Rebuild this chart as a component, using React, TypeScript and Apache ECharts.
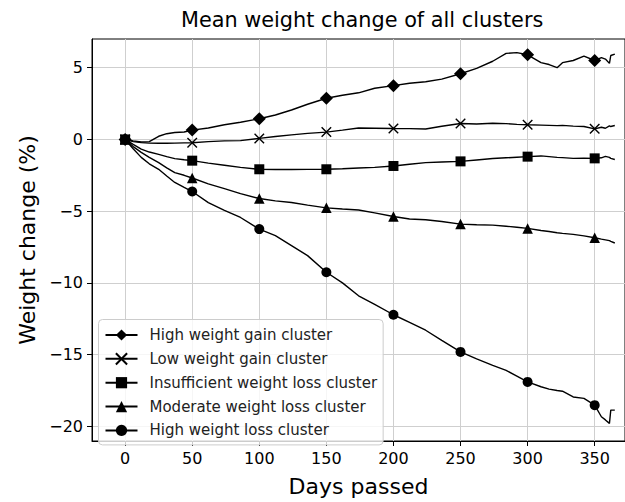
import React, { useEffect, useRef } from "react";
import * as echarts from "echarts";

const days = [0, 6, 12, 18, 25, 31, 37, 44, 50, 62, 74, 86, 100, 112, 124, 136, 150, 162, 174, 186, 200, 212, 224, 236, 250, 262, 274, 284, 292, 300, 310, 316, 322, 326, 334, 342, 350, 355, 358, 361, 362, 365];

const highGain = [0, -0.1, -0.18, -0.15, 0.22, 0.4, 0.48, 0.52, 0.65, 0.8, 1.02, 1.2, 1.44, 1.7, 2.05, 2.45, 2.87, 3.08, 3.25, 3.57, 3.75, 3.92, 4.02, 4.2, 4.58, 4.95, 5.45, 6.0, 6.05, 5.9, 5.35, 5.22, 5.0, 5.35, 5.5, 5.8, 5.5, 5.7, 5.6, 5.3, 5.85, 5.95];
const lowGain = [0, -0.15, -0.22, -0.26, -0.27, -0.27, -0.26, -0.24, -0.23, -0.15, -0.1, -0.08, 0.07, 0.2, 0.32, 0.42, 0.51, 0.65, 0.8, 0.78, 0.76, 0.75, 0.73, 0.92, 1.11, 1.08, 1.13, 1.1, 1.05, 1.02, 1.0, 0.98, 0.96, 0.98, 0.93, 0.9, 0.74, 0.85, 0.78, 0.95, 0.9, 0.97];
const insufficientLoss = [0, -0.35, -0.68, -0.88, -1.04, -1.2, -1.34, -1.42, -1.48, -1.65, -1.8, -1.95, -2.08, -2.1, -2.1, -2.09, -2.08, -2.04, -1.99, -1.95, -1.85, -1.73, -1.62, -1.57, -1.53, -1.43, -1.33, -1.28, -1.24, -1.2, -1.15, -1.2, -1.25, -1.27, -1.32, -1.3, -1.32, -1.28, -1.18, -1.25, -1.32, -1.4];
const moderateLoss = [0, -0.5, -0.9, -1.25, -1.62, -1.98, -2.31, -2.5, -2.69, -3.1, -3.43, -3.78, -4.12, -4.28, -4.4, -4.58, -4.77, -4.85, -4.92, -5.12, -5.37, -5.55, -5.6, -5.72, -5.9, -5.95, -5.97, -6.05, -6.12, -6.2, -6.35, -6.42, -6.5, -6.55, -6.62, -6.72, -6.85, -6.95, -7.0, -7.05, -7.1, -7.22];
const highLoss = [0, -0.65, -1.25, -1.7, -2.08, -2.55, -3.0, -3.35, -3.63, -4.4, -4.95, -5.44, -6.25, -6.7, -7.4, -8.1, -9.26, -10.0, -10.9, -11.5, -12.22, -12.75, -13.3, -14.0, -14.81, -15.3, -15.75, -16.1, -16.5, -16.9, -17.24, -17.4, -17.5, -17.55, -17.95, -18.05, -18.52, -19.33, -19.55, -19.79, -18.87, -18.87];

const seriesNames = [
  "High weight gain cluster",
  "Low weight gain cluster",
  "Insufficient weight loss cluster",
  "Moderate weight loss cluster",
  "High weight loss cluster",
];

const markerDays = [0, 50, 100, 150, 200, 250, 300, 350];
const xTicks = [0, 50, 100, 150, 200, 250, 300, 350];
const yTicks = [-20, -15, -10, -5, 0, 5];

const FONT = "DejaVu Sans";

function makeSeries(name: string, values: number[], symbol: string, size: number, border: number) {
  return {
    name,
    type: "line",
    symbol,
    symbolSize: size,
    showAllSymbol: true,
    silent: true,
    emphasis: { disabled: true },
    data: days.map((d, i) =>
      markerDays.includes(d) ? { value: [d, values[i]] } : { value: [d, values[i]], symbol: "none" }
    ),
    lineStyle: { color: "#000", width: 1.4 },
    itemStyle: { color: "#000", borderColor: "#000", borderWidth: border },
  };
}

export default function App() {
  const ref = useRef<HTMLDivElement>(null);
  useEffect(() => {
    if (!ref.current) return;
    const chart = echarts.init(ref.current, undefined, { renderer: "svg" });
    const fmt = (v: number) => String(v).replace("-", "\u2212");
    chart.setOption({
      animation: false,
      backgroundColor: "#fff",
      title: {
        text: "Mean weight change of all clusters",
        left: 181,
        top: 9,
        padding: 0,
        textStyle: { fontFamily: FONT, fontSize: 20.8, fontWeight: "normal", color: "#000" },
      },
      grid: {
        left: 92,
        right: -6,
        top: 39,
        bottom: 59,
        show: true,
        borderColor: "#000",
        borderWidth: 1,
        backgroundColor: "transparent",
      },
      legend: {
        orient: "vertical",
        left: 98.5,
        top: 319.5,
        padding: [8, 6, 7, 6],
        itemWidth: 32,
        itemHeight: 14,
        itemGap: 8.85,
        backgroundColor: "rgba(255,255,255,0.8)",
        borderColor: "#cccccc",
        borderWidth: 1,
        borderRadius: 4,
        selectedMode: false,
        textStyle: { fontFamily: FONT, fontSize: 15, color: "#222", padding: [0, 0, 0, 7] },
        data: seriesNames,
      },
      xAxis: {
        type: "value",
        min: -24.7,
        max: 372.6,
        minInterval: 50,
        maxInterval: 50,
        name: "Days passed",
        nameLocation: "middle",
        nameGap: 34,
        nameTextStyle: { fontFamily: FONT, fontSize: 22, color: "#000" },
        axisLine: { show: true, onZero: false, lineStyle: { color: "#000", width: 1 } },
        axisTick: { show: true, length: 5, customValues: xTicks, lineStyle: { color: "#000", width: 1 } },
        axisLabel: { customValues: xTicks, fontFamily: FONT, fontSize: 16, color: "#000", margin: 9, formatter: fmt },
        splitLine: { show: true, lineStyle: { color: "#cfcfcf", width: 1 } },
      },
      yAxis: {
        type: "value",
        min: -21.02,
        max: 7.0,
        minInterval: 5,
        maxInterval: 5,
        name: "Weight change (%)",
        nameLocation: "middle",
        nameGap: 53,
        nameTextStyle: { fontFamily: FONT, fontSize: 22, color: "#000" },
        axisLine: { show: true, onZero: false, lineStyle: { color: "#000", width: 1 } },
        axisTick: { show: true, length: 5, customValues: yTicks, lineStyle: { color: "#000", width: 1 } },
        axisLabel: { customValues: yTicks, fontFamily: FONT, fontSize: 16, color: "#000", margin: 9, formatter: fmt },
        splitLine: { show: true, lineStyle: { color: "#cfcfcf", width: 1 } },
      },
      series: [
        makeSeries(seriesNames[0], highGain, "diamond", 13, 0),
        makeSeries(seriesNames[1], lowGain, "path://M0,0L10,10M10,0L0,10", 9.5, 1.4),
        makeSeries(seriesNames[2], insufficientLoss, "rect", 10, 0),
        makeSeries(seriesNames[3], moderateLoss, "triangle", 10.5, 0),
        makeSeries(seriesNames[4], highLoss, "circle", 10, 0),
      ],
    });
    return () => chart.dispose();
  }, []);
  return <div ref={ref} style={{ position: "fixed", left: 0, top: 0, width: 625, height: 502 }} />;
}
